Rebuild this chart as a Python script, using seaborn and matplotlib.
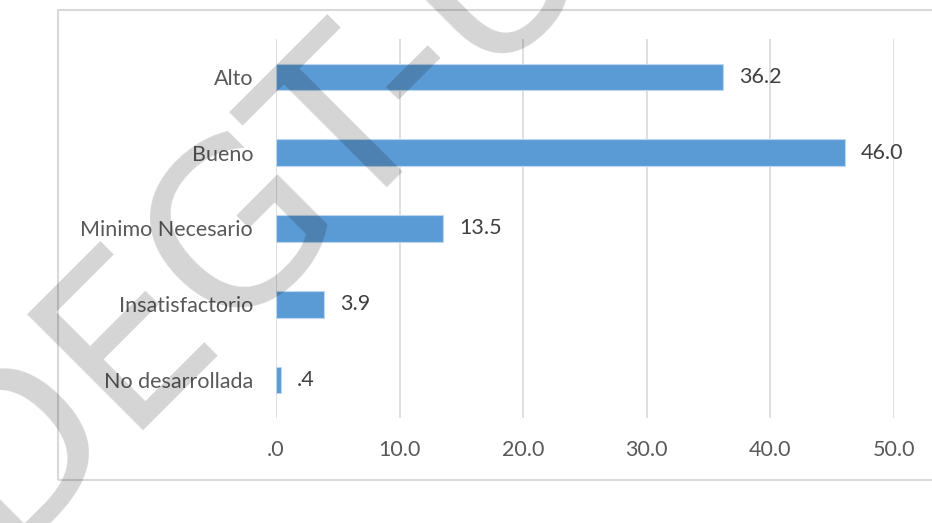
import seaborn as sns
import matplotlib.pyplot as plt
import pandas as pd
from matplotlib.patches import Rectangle

# data
categories = ["Alto", "Bueno", "Minimo Necesario", "Insatisfactorio", "No desarrollada"]
values = [36.2, 46.0, 13.5, 3.9, 0.4]
xticks = [0, 10, 20, 30, 40, 50]


def spss_fmt(v):
    # SPSS style: ".4" instead of "0.4"
    s = f"{v:.1f}"
    return s[1:] if s.startswith("0") else s


df = pd.DataFrame({"cat": categories, "val": values})

sns.set_style("white")
plt.rcParams["font.family"] = ["Lato", "DejaVu Sans"]

W, H = 932, 523
fig = plt.figure(figsize=(W / 100, H / 100), dpi=100)
ax = fig.add_axes([276 / W, (H - 418) / H, (894 - 276) / W, 379 / H])

sns.barplot(data=df, x="val", y="cat", orient="h", color="#5B9BD5", saturation=1,
            width=0.35, edgecolor="#BDD7EE", linewidth=0.8, ax=ax, zorder=3)

ax.set_xlim(0, 50)
ax.set_xticks(xticks)
ax.set_xticklabels([spss_fmt(t) for t in xticks])
ax.grid(axis="x", color="#D9D9D9", linewidth=1.2, zorder=0)
ax.set_axisbelow(True)
for s in ax.spines.values():
    s.set_visible(False)
ax.tick_params(axis="both", length=0, labelsize=15.5, labelcolor="#595959")
ax.tick_params(axis="x", pad=16)
ax.tick_params(axis="y", pad=16.5)
ax.set_xlabel("")
ax.set_ylabel("")

for i, v in enumerate(values):
    ax.annotate(spss_fmt(v), (v, i), xytext=(11.5, 0), textcoords="offset points",
                va="center", ha="left", fontsize=15.5, color="#404040")

# chart frame
fig.patches.append(Rectangle((58 / W, (H - 480) / H), 1.0, 470 / H,
                             transform=fig.transFigure, fill=False,
                             edgecolor="#D9D9D9", linewidth=1.5))

# watermark
fig.text(0.0, -0.055, "DEGT-U", rotation=45, rotation_mode="anchor",
         ha="left", va="baseline", fontsize=162, color="black", alpha=0.17,
         family="DejaVu Sans", zorder=10)

fig.savefig("out.png", dpi=100)
